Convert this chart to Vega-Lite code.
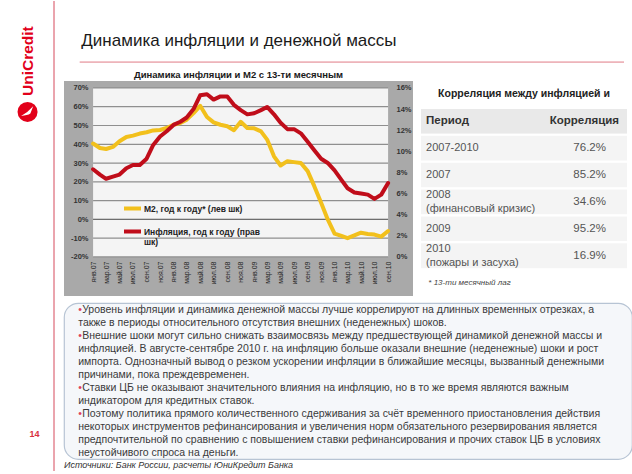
{
  "$schema": "https://vega.github.io/schema/vega-lite/v6.json",
  "background": "white",
  "padding": 0,
  "spacing": 8,
  "align": "none",
  "resolve": {"scale": {"color": "independent"}, "legend": {"color": "independent"}},
  "datasets": {
    "series": [
      {"date": "2007-01-01", "m2": 40.4, "infl": 8.3},
      {"date": "2007-02-01", "m2": 38.0, "infl": 7.8},
      {"date": "2007-03-01", "m2": 37.5, "infl": 7.4},
      {"date": "2007-04-01", "m2": 38.6, "infl": 7.6},
      {"date": "2007-05-01", "m2": 41.6, "infl": 7.8},
      {"date": "2007-06-01", "m2": 43.9, "infl": 8.4},
      {"date": "2007-07-01", "m2": 44.6, "infl": 8.7},
      {"date": "2007-08-01", "m2": 45.7, "infl": 8.7},
      {"date": "2007-09-01", "m2": 46.4, "infl": 9.3},
      {"date": "2007-10-01", "m2": 47.4, "infl": 10.6},
      {"date": "2007-11-01", "m2": 47.6, "infl": 11.4},
      {"date": "2007-12-01", "m2": 48.7, "infl": 11.9},
      {"date": "2008-01-01", "m2": 50.4, "infl": 12.5},
      {"date": "2008-02-01", "m2": 51.3, "infl": 12.8},
      {"date": "2008-03-01", "m2": 53.1, "infl": 13.2},
      {"date": "2008-04-01", "m2": 56.6, "infl": 14.0},
      {"date": "2008-05-01", "m2": 60.5, "infl": 15.3},
      {"date": "2008-06-01", "m2": 54.5, "infl": 15.4},
      {"date": "2008-07-01", "m2": 51.7, "infl": 14.9},
      {"date": "2008-08-01", "m2": 50.4, "infl": 15.2},
      {"date": "2008-09-01", "m2": 49.6, "infl": 15.2},
      {"date": "2008-10-01", "m2": 47.5, "infl": 14.4},
      {"date": "2008-11-01", "m2": 52.0, "infl": 13.9},
      {"date": "2008-12-01", "m2": 48.7, "infl": 13.5},
      {"date": "2009-01-01", "m2": 48.5, "infl": 13.6},
      {"date": "2009-02-01", "m2": 46.9, "infl": 13.9},
      {"date": "2009-03-01", "m2": 42.5, "infl": 14.2},
      {"date": "2009-04-01", "m2": 33.6, "infl": 13.5},
      {"date": "2009-05-01", "m2": 28.7, "infl": 12.7},
      {"date": "2009-06-01", "m2": 31.0, "infl": 12.1},
      {"date": "2009-07-01", "m2": 30.5, "infl": 12.1},
      {"date": "2009-08-01", "m2": 30.0, "infl": 11.7},
      {"date": "2009-09-01", "m2": 25.7, "infl": 10.9},
      {"date": "2009-10-01", "m2": 17.7, "infl": 10.1},
      {"date": "2009-11-01", "m2": 8.8, "infl": 9.3},
      {"date": "2009-12-01", "m2": 0.0, "infl": 8.9},
      {"date": "2010-01-01", "m2": -7.6, "infl": 8.2},
      {"date": "2010-02-01", "m2": -8.8, "infl": 7.3},
      {"date": "2010-03-01", "m2": -10.0, "infl": 6.5},
      {"date": "2010-04-01", "m2": -8.5, "infl": 6.1},
      {"date": "2010-05-01", "m2": -7.1, "infl": 6.0},
      {"date": "2010-06-01", "m2": -7.8, "infl": 5.9},
      {"date": "2010-07-01", "m2": -8.1, "infl": 5.5},
      {"date": "2010-08-01", "m2": -9.2, "infl": 5.9},
      {"date": "2010-09-01", "m2": -6.2, "infl": 7.0}
    ],
    "grid": [
      {"level": -20}, {"level": -10}, {"level": 0}, {"level": 10}, {"level": 20},
      {"level": 30}, {"level": 40}, {"level": 50}, {"level": 60}, {"level": 70}
    ],
    "table": [
      {"kind": "title", "period": "Корреляция между инфляцией и", "corr": ""},
      {"kind": "header", "period": "Период", "corr": "Корреляция"},
      {"kind": "row", "period": "2007-2010", "corr": "76.2%"},
      {"kind": "row", "period": "2007", "corr": "85.2%"},
      {"kind": "row2", "period": "2008\n(финансовый кризис)", "corr": "34.6%"},
      {"kind": "row", "period": "2009", "corr": "95.2%"},
      {"kind": "row2", "period": "2010\n(пожары и засуха)", "corr": "16.9%"},
      {"kind": "note", "period": "* 13-ти месячный лаг", "corr": ""}
    ],
    "notes": [
      {"line": 1, "bullet": true, "text": "Уровень инфляции и динамика денежной массы лучше коррелируют на длинных временных отрезках, а"},
      {"line": 2, "bullet": false, "text": "также в периоды относительного отсутствия внешних (неденежных) шоков."},
      {"line": 3, "bullet": true, "text": "Внешние шоки могут сильно снижать взаимосвязь между предшествующей динамикой денежной массы и"},
      {"line": 4, "bullet": false, "text": "инфляцией. В августе-сентябре 2010 г. на инфляцию больше оказали внешние (неденежные) шоки и рост"},
      {"line": 5, "bullet": false, "text": "импорта. Однозначный вывод о резком ускорении инфляции в ближайшие месяцы, вызванный денежными"},
      {"line": 6, "bullet": false, "text": "причинами, пока преждевременен."},
      {"line": 7, "bullet": true, "text": "Ставки ЦБ не оказывают значительного влияния на инфляцию, но в то же время являются важным"},
      {"line": 8, "bullet": false, "text": "индикатором для кредитных ставок."},
      {"line": 9, "bullet": true, "text": "Поэтому политика прямого количественного сдерживания за счёт временного приостановления действия"},
      {"line": 10, "bullet": false, "text": "некоторых инструментов рефинансирования и увеличения норм обязательного резервирования является"},
      {"line": 11, "bullet": false, "text": "предпочтительной по сравнению с повышением ставки рефинансирования и прочих ставок ЦБ в условиях"},
      {"line": 12, "bullet": false, "text": "неустойчивого спроса на деньги."}
    ],
    "brand": [{"name": "UniCredit", "page": "14", "heading": "Динамика инфляции и денежной массы"}]
  },
  "hconcat": [
    {
      "width": 54,
      "height": 470,
      "data": {"name": "brand"},
      "view": {"fill": "white", "stroke": null},
      "layer": [
        {
          "mark": {"type": "rule", "color": "#d64a5c", "strokeWidth": 1},
          "encoding": {"x": {"datum": 1, "type": "quantitative", "scale": {"domain": [0, 1]}, "axis": null}}
        },
        {
          "mark": {"type": "text", "angle": 270, "fontSize": 15.5, "fontWeight": "bold", "color": "#e2001a", "align": "center", "baseline": "middle"},
          "encoding": {
            "x": {"datum": 0.51, "type": "quantitative"},
            "y": {"datum": 0.128, "type": "quantitative", "scale": {"domain": [0, 1], "reverse": true}, "axis": null},
            "text": {"field": "name"}
          }
        },
        {
          "mark": {"type": "point", "shape": "circle", "filled": true, "size": 400, "color": "#e2001a", "opacity": 1},
          "encoding": {
            "x": {"datum": 0.51, "type": "quantitative"},
            "y": {"datum": 0.236, "type": "quantitative"}
          }
        },
        {
          "mark": {"type": "point", "shape": "M -0.8 0.5 Q 0 0.1 0.7 -0.7 L 0.35 0.2 Q 0 0.45 -0.8 0.5 Z", "filled": true, "size": 260, "color": "white", "opacity": 1},
          "encoding": {
            "x": {"datum": 0.51, "type": "quantitative"},
            "y": {"datum": 0.236, "type": "quantitative"}
          }
        },
        {
          "mark": {"type": "text", "fontSize": 9, "fontWeight": "bold", "color": "#d9303f", "align": "center", "baseline": "middle"},
          "encoding": {
            "x": {"datum": 0.64, "type": "quantitative"},
            "y": {"datum": 0.922, "type": "quantitative"},
            "text": {"field": "page"}
          }
        }
      ]
    },
    {
      "spacing": 6,
      "align": "none",
      "resolve": {"scale": {"color": "independent"}, "legend": {"color": "independent"}},
      "vconcat": [
        {
          "width": 560,
          "height": 62,
          "data": {"name": "brand"},
          "view": {"fill": "white", "stroke": null},
          "layer": [
            {
              "mark": {"type": "text", "fontSize": 17, "color": "#1a1a1a", "align": "left", "baseline": "middle"},
              "encoding": {
                "x": {"datum": 0.031, "type": "quantitative", "scale": {"domain": [0, 1]}, "axis": null},
                "y": {"datum": 0.645, "type": "quantitative", "scale": {"domain": [0, 1], "reverse": true}, "axis": null},
                "text": {"field": "heading"}
              }
            },
            {
              "mark": {"type": "rule", "color": "#e07a86", "strokeWidth": 1},
              "encoding": {
                "x": {"datum": 0.028, "type": "quantitative"},
                "x2": {"datum": 1},
                "y": {"datum": 0.985, "type": "quantitative"}
              }
            }
          ]
        },
        {
          "spacing": 6,
          "align": "none",
          "resolve": {"scale": {"color": "independent"}, "legend": {"color": "independent"}},
          "hconcat": [
            {
              "width": 349,
              "height": 215,
              "data": {"name": "series"},
              "view": {"fill": "#a9a9a9", "stroke": null},
              "title": {"text": "Динамика инфляции и М2 с 13-ти месячным", "fontSize": 9.5, "fontWeight": "bold", "color": "#1a1a1a", "offset": 2, "anchor": "middle"},
              "resolve": {"scale": {"x": "independent", "y": "independent"}},
              "layer": [
                {
                  "data": {"values": [{}]},
                  "mark": {"type": "rect", "color": "#f4f4f4"},
                  "encoding": {
                    "x": {"datum": {"year": 2007, "month": 1, "date": 1, "utc": true}, "type": "temporal", "axis": null,
                          "scale": {"type": "utc", "domain": [{"year": 2006, "month": 8, "date": 22, "utc": true}, {"year": 2010, "month": 12, "date": 23, "utc": true}]}},
                    "x2": {"datum": {"year": 2010, "month": 9, "date": 1, "utc": true}},
                    "y": {"datum": 70, "type": "quantitative", "axis": null, "scale": {"domain": [-40.8, 73.7], "nice": false, "zero": false}},
                    "y2": {"datum": -20}
                  }
                },
                {
                  "data": {"name": "grid"},
                  "mark": {"type": "rule", "color": "#8f8f8f", "strokeWidth": 1.2},
                  "encoding": {
                    "x": {"datum": {"year": 2007, "month": 1, "date": 1, "utc": true}, "type": "temporal", "axis": null,
                          "scale": {"type": "utc", "domain": [{"year": 2006, "month": 8, "date": 22, "utc": true}, {"year": 2010, "month": 12, "date": 23, "utc": true}]}},
                    "x2": {"datum": {"year": 2010, "month": 9, "date": 1, "utc": true}},
                    "y": {"field": "level", "type": "quantitative", "axis": null, "scale": {"domain": [-40.8, 73.7], "nice": false, "zero": false}}
                  }
                },
                {
                  "data": {"values": [{}]},
                  "mark": {"type": "rule", "color": "#6a6a6a", "strokeWidth": 1},
                  "encoding": {
                    "x": {"datum": {"year": 2007, "month": 1, "date": 1, "utc": true}, "type": "temporal", "axis": null,
                          "scale": {"type": "utc", "domain": [{"year": 2006, "month": 8, "date": 22, "utc": true}, {"year": 2010, "month": 12, "date": 23, "utc": true}]}},
                    "x2": {"datum": {"year": 2010, "month": 9, "date": 1, "utc": true}},
                    "y": {"datum": 0, "type": "quantitative", "axis": null, "scale": {"domain": [-40.8, 73.7], "nice": false, "zero": false}}
                  }
                },
                {
                  "mark": {"type": "line", "strokeWidth": 4, "strokeJoin": "round", "strokeCap": "round"},
                  "encoding": {
                    "x": {
                      "field": "date", "type": "temporal",
                      "scale": {"type": "utc", "domain": [{"year": 2006, "month": 8, "date": 22, "utc": true}, {"year": 2010, "month": 12, "date": 23, "utc": true}]},
                      "axis": {
                        "title": null, "offset": -39,
                        "values": [
                          {"year": 2007, "month": 1, "date": 1, "utc": true}, {"year": 2007, "month": 3, "date": 1, "utc": true}, {"year": 2007, "month": 5, "date": 1, "utc": true},
                          {"year": 2007, "month": 7, "date": 1, "utc": true}, {"year": 2007, "month": 9, "date": 1, "utc": true}, {"year": 2007, "month": 11, "date": 1, "utc": true},
                          {"year": 2008, "month": 1, "date": 1, "utc": true}, {"year": 2008, "month": 3, "date": 1, "utc": true}, {"year": 2008, "month": 5, "date": 1, "utc": true},
                          {"year": 2008, "month": 7, "date": 1, "utc": true}, {"year": 2008, "month": 9, "date": 1, "utc": true}, {"year": 2008, "month": 11, "date": 1, "utc": true},
                          {"year": 2009, "month": 1, "date": 1, "utc": true}, {"year": 2009, "month": 3, "date": 1, "utc": true}, {"year": 2009, "month": 5, "date": 1, "utc": true},
                          {"year": 2009, "month": 7, "date": 1, "utc": true}, {"year": 2009, "month": 9, "date": 1, "utc": true}, {"year": 2009, "month": 11, "date": 1, "utc": true},
                          {"year": 2010, "month": 1, "date": 1, "utc": true}, {"year": 2010, "month": 3, "date": 1, "utc": true}, {"year": 2010, "month": 5, "date": 1, "utc": true},
                          {"year": 2010, "month": 7, "date": 1, "utc": true}, {"year": 2010, "month": 9, "date": 1, "utc": true}
                        ],
                        "labelExpr": "['янв','фев','мар','апр','май','июн','июл','авг','сен','окт','ноя','дек'][utcmonth(datum.value)] + '.' + utcFormat(datum.value, '%y')",
                        "labelAngle": 270, "labelAlign": "right", "labelBaseline": "middle", "labelFontSize": 7, "labelColor": "#222",
                        "labelPadding": 4, "domain": false, "ticks": false, "grid": false, "zindex": 1, "labelOverlap": false, "labelFlush": false, "labelBound": false
                      }
                    },
                    "y": {
                      "field": "m2", "type": "quantitative",
                      "scale": {"domain": [-40.8, 73.7], "nice": false, "zero": false},
                      "axis": {
                        "title": null, "orient": "left", "offset": -29, "values": [-20, -10, 0, 10, 20, 30, 40, 50, 60, 70],
                        "labelExpr": "datum.value + '%'", "labelFontSize": 7.5, "labelFontWeight": "bold", "labelColor": "#333", "labelOverlap": false,
                        "labelPadding": 5, "domain": false, "ticks": false, "grid": false, "zindex": 1
                      }
                    },
                    "color": {
                      "datum": "М2, год к году* (лев шк)",
                      "scale": {"domain": ["М2, год к году* (лев шк)", "Инфляция, год к году (прав шк)"], "range": ["#f2c01c", "#c00d1a"]},
                      "legend": {
                        "orient": "none", "legendX": 58, "legendY": 117, "title": null, "symbolType": "stroke", "symbolStrokeWidth": 4, "symbolSize": 289,
                        "labelFontSize": 8.5, "labelFontWeight": "bold", "labelColor": "#222", "rowPadding": 4, "padding": 0, "labelOffset": 1, "labelLimit": 300,
                        "labelExpr": "datum.label == 'Инфляция, год к году (прав шк)' ? ['Инфляция, год к году (прав', 'шк)'] : datum.label"
                      }
                    }
                  }
                },
                {
                  "mark": {"type": "line", "strokeWidth": 4, "strokeJoin": "round", "strokeCap": "round"},
                  "encoding": {
                    "x": {"field": "date", "type": "temporal", "axis": null,
                          "scale": {"type": "utc", "domain": [{"year": 2006, "month": 8, "date": 22, "utc": true}, {"year": 2010, "month": 12, "date": 23, "utc": true}]}},
                    "y": {
                      "field": "infl", "type": "quantitative",
                      "scale": {"domain": [-3.698, 16.658], "nice": false, "zero": false},
                      "axis": {
                        "title": null, "orient": "right", "offset": -25, "values": [0, 2, 4, 6, 8, 10, 12, 14, 16],
                        "labelExpr": "datum.value + '%'", "labelFontSize": 7.5, "labelFontWeight": "bold", "labelColor": "#333", "labelOverlap": false,
                        "labelPadding": 8, "domain": false, "ticks": false, "grid": false, "zindex": 1
                      }
                    },
                    "color": {"datum": "Инфляция, год к году (прав шк)"}
                  }
                }
              ]
            },
            {
              "width": 208,
              "height": 215,
              "data": {"name": "table"},
              "view": {"fill": "white", "stroke": null},
              "encoding": {
                "y": {
                  "field": "period", "type": "ordinal", "axis": null,
                  "scale": {"domain": ["Корреляция между инфляцией и", "Период", "2007-2010", "2007", "2008\n(финансовый кризис)", "2009", "2010\n(пожары и засуха)", "* 13-ти месячный лаг"], "paddingInner": 0, "paddingOuter": 0}
                }
              },
              "layer": [
                {
                  "transform": [{"filter": "datum.kind == 'header' || datum.kind == 'row' || datum.kind == 'row2'"}],
                  "mark": {"type": "rect", "stroke": "white", "strokeWidth": 2},
                  "encoding": {"fill": {"condition": {"test": "datum.kind == 'header'", "value": "#e9e9e9"}, "value": "#f4f4f4"}}
                },
                {
                  "transform": [{"filter": "datum.kind == 'title'"}],
                  "mark": {"type": "text", "fontSize": 10.5, "fontWeight": "bold", "color": "#222", "align": "center", "baseline": "middle"},
                  "encoding": {"x": {"datum": 0.5, "type": "quantitative", "scale": {"domain": [0, 1]}, "axis": null}, "text": {"field": "period"}}
                },
                {
                  "transform": [{"filter": "datum.kind == 'header'"}],
                  "mark": {"type": "text", "fontSize": 11.5, "fontWeight": "bold", "color": "#333", "align": "left", "baseline": "middle"},
                  "encoding": {"x": {"datum": 0.029, "type": "quantitative"}, "text": {"field": "period"}}
                },
                {
                  "transform": [{"filter": "datum.kind == 'header'"}],
                  "mark": {"type": "text", "fontSize": 11.5, "fontWeight": "bold", "color": "#333", "align": "right", "baseline": "middle"},
                  "encoding": {"x": {"datum": 0.957, "type": "quantitative"}, "text": {"field": "corr"}}
                },
                {
                  "transform": [{"filter": "datum.kind == 'row'"}],
                  "mark": {"type": "text", "fontSize": 11, "color": "#555", "align": "left", "baseline": "middle"},
                  "encoding": {"x": {"datum": 0.029, "type": "quantitative"}, "text": {"field": "period"}}
                },
                {
                  "transform": [{"filter": "datum.kind == 'row2'"}],
                  "mark": {"type": "text", "fontSize": 11, "color": "#555", "align": "left", "baseline": "middle", "lineBreak": "\n", "lineHeight": 14, "dy": -7},
                  "encoding": {"x": {"datum": 0.029, "type": "quantitative"}, "text": {"field": "period"}}
                },
                {
                  "transform": [{"filter": "datum.kind == 'row' || datum.kind == 'row2'"}],
                  "mark": {"type": "text", "fontSize": 11.5, "color": "#555", "align": "right", "baseline": "middle"},
                  "encoding": {"x": {"datum": 0.894, "type": "quantitative"}, "text": {"field": "corr"}}
                },
                {
                  "transform": [{"filter": "datum.kind == 'note'"}],
                  "mark": {"type": "text", "fontSize": 8, "fontStyle": "italic", "color": "#444", "align": "left", "baseline": "middle"},
                  "encoding": {"x": {"datum": 0.04, "type": "quantitative"}, "text": {"field": "period"}}
                }
              ]
            }
          ]
        },
        {
          "width": 568,
          "height": 156,
          "data": {"name": "notes"},
          "view": {"fill": "#f5f7fa", "stroke": "#b7c4d4", "strokeWidth": 1.2, "cornerRadius": 14},
          "title": {"text": "Источники: Банк России, расчеты ЮниКредит Банка", "orient": "bottom", "anchor": "start", "fontSize": 9, "fontStyle": "italic", "fontWeight": "normal", "color": "#333", "offset": 2},
          "encoding": {
            "y": {"field": "line", "type": "ordinal", "axis": null, "scale": {"paddingInner": 0, "paddingOuter": 0}}
          },
          "layer": [
            {
              "transform": [{"filter": "!datum.bullet"}],
              "mark": {"type": "text", "fontSize": 10.5, "color": "#3a3a3a", "align": "left", "baseline": "middle"},
              "encoding": {"x": {"datum": 0.025, "type": "quantitative", "scale": {"domain": [0, 1]}, "axis": null}, "text": {"field": "text"}}
            },
            {
              "transform": [{"filter": "datum.bullet"}],
              "mark": {"type": "text", "fontSize": 10.5, "color": "#3a3a3a", "align": "left", "baseline": "middle"},
              "encoding": {"x": {"datum": 0.032, "type": "quantitative"}, "text": {"field": "text"}}
            },
            {
              "transform": [{"filter": "datum.bullet"}],
              "mark": {"type": "text", "fontSize": 10.5, "color": "#e0405a", "align": "left", "baseline": "middle"},
              "encoding": {"x": {"datum": 0.025, "type": "quantitative"}, "text": {"value": "•"}}
            }
          ]
        }
      ]
    }
  ],
  "config": {
    "font": "Liberation Sans",
    "view": {"stroke": null},
    "title": {"font": "Liberation Sans"},
    "axis": {"labelFont": "Liberation Sans", "labelOverlap": false},
    "legend": {"labelFont": "Liberation Sans"},
    "text": {"font": "Liberation Sans"}
  }
}
